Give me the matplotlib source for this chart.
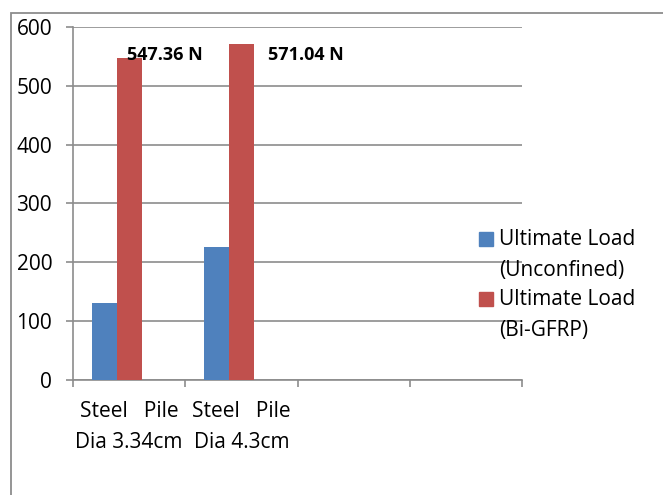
import matplotlib.pyplot as plt
from matplotlib.patches import Rectangle
import numpy as np

plt.rcParams['font.family'] = ['Open Sans', 'DejaVu Sans']

categories = ['Steel   Pile\nDia 3.34cm', 'Steel   Pile\nDia 4.3cm', '', '']
unconfined = [131.4, 225.5]
bi_gfrp = [547.36, 571.04]
series_names = ['Ultimate Load\n(Unconfined)', 'Ultimate Load\n(Bi-GFRP)']
series_colors = ['#4F81BD', '#C0504D']
bar_labels = ['547.36 N', '571.04 N']
y_ticks = [0, 100, 200, 300, 400, 500, 600]

W, H = 663, 495
fig = plt.figure(figsize=(W / 100, H / 100), dpi=100)

# chart frame (right/bottom sit outside the picture)
fig.patches.append(Rectangle((11 / W, -0.5), 1, 1.5 - 13 / H, transform=fig.transFigure,
                             fill=False, edgecolor='#8c8c8c', linewidth=1.3))

ax = fig.add_axes([73 / W, (H - 380) / H, (522 - 73) / W, (380 - 27) / H])

grid_c = '#8c8c8c'
w = 0.222
x = np.arange(len(unconfined))
ax.bar(x - w, unconfined, width=w, color=series_colors[0], zorder=3)
ax.bar(x, bi_gfrp, width=w, color=series_colors[1], zorder=3)

ax.set_xlim(-0.5, len(categories) - 0.5)
ax.set_ylim(0, 600)
ax.set_yticks(y_ticks)
ax.yaxis.grid(True, color=grid_c, linewidth=1.2, zorder=0)

ax.set_xticks(np.arange(len(categories) + 1) - 0.5)
ax.set_xticklabels([])
ax.set_xticks(np.arange(len(categories)), minor=True)
ax.set_xticklabels(categories, minor=True, fontsize=15, linespacing=1.65)
ax.tick_params(axis='x', which='minor', length=0, pad=15)
ax.tick_params(axis='x', which='major', length=5, color=grid_c, width=1.2, direction='out')
ax.tick_params(axis='y', length=5, color=grid_c, width=1.2, labelsize=15, pad=10)

for side in ['top', 'right']:
    ax.spines[side].set_visible(False)
for side in ['left', 'bottom']:
    ax.spines[side].set_color(grid_c)
    ax.spines[side].set_linewidth(1.2)

ax.text(-0.02, 553, bar_labels[0], fontsize=13, fontweight='bold', va='center', ha='left')
ax.text(1.233, 553, bar_labels[1], fontsize=13, fontweight='bold', va='center', ha='left')

# legend: square next to the first line of each two-line label
for i, (name, col) in enumerate(zip(series_names, series_colors)):
    top = 232 + 60 * i
    fig.patches.append(Rectangle((479 / W, 1 - (top + 13.5) / H), 14 / W, 13.5 / H,
                                 transform=fig.transFigure, color=col))
    fig.text(499 / W, 1 - (255 + 60 * i) / H, name, fontsize=15, linespacing=1.65,
             va='center', ha='left')

fig.savefig('out.png', dpi=100)
